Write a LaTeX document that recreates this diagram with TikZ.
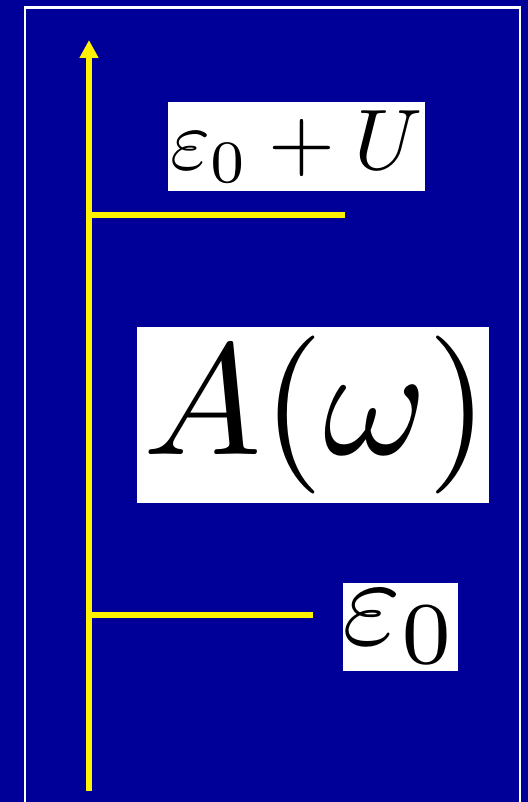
\documentclass[tikz,border=0pt]{standalone}
\usepackage{graphicx}
\usepackage{tikz}
\usetikzlibrary{arrows.meta}
\definecolor{slideblue}{RGB}{0,0,153}

\begin{document}
\begin{tikzpicture}[x=0.5pt,y=-0.5pt,
    level/.style={draw=yellow,line width=3pt},
    tag/.style={fill=white,text=black,inner sep=0pt}]
    \fill[slideblue] (0,0) rectangle (528,802);
    \useasboundingbox (0,0) rectangle (528,802);
    \draw[white,line width=1.2pt] (25,802) -- (25,7.5) -- (520,7.5) -- (520,802);
    \coordinate (bottom) at (89,791);
    \coordinate (top) at (89,40);
    \coordinate (u_0) at (89,215);
    \coordinate (u_1) at (345,215);
    \coordinate (e_0) at (89,615);
    \coordinate (e_1) at (313,615);
    \node[tag,minimum width=128.5pt,minimum height=44.5pt] (eU) at (296.5,146.5) {\scalebox{4.3}{$\varepsilon_0+U$}};
    \node[tag,minimum width=176pt,minimum height=88pt] (A) at (313,415) {\hspace{3.5pt}\scalebox{7.9}{$A(\omega)$}\hspace{-3.5pt}};
    \node[tag,minimum width=56.5pt,minimum height=44pt] (e) at (400.5,627) {\scalebox{6.3}{$\varepsilon_0$}};
    \draw[level,-{Triangle[length=9pt,width=9pt]}] (bottom) -- (top);
    \draw[level] (u_0) -- (u_1);
    \draw[level] (e_0) -- (e_1);
\end{tikzpicture}
\end{document}
